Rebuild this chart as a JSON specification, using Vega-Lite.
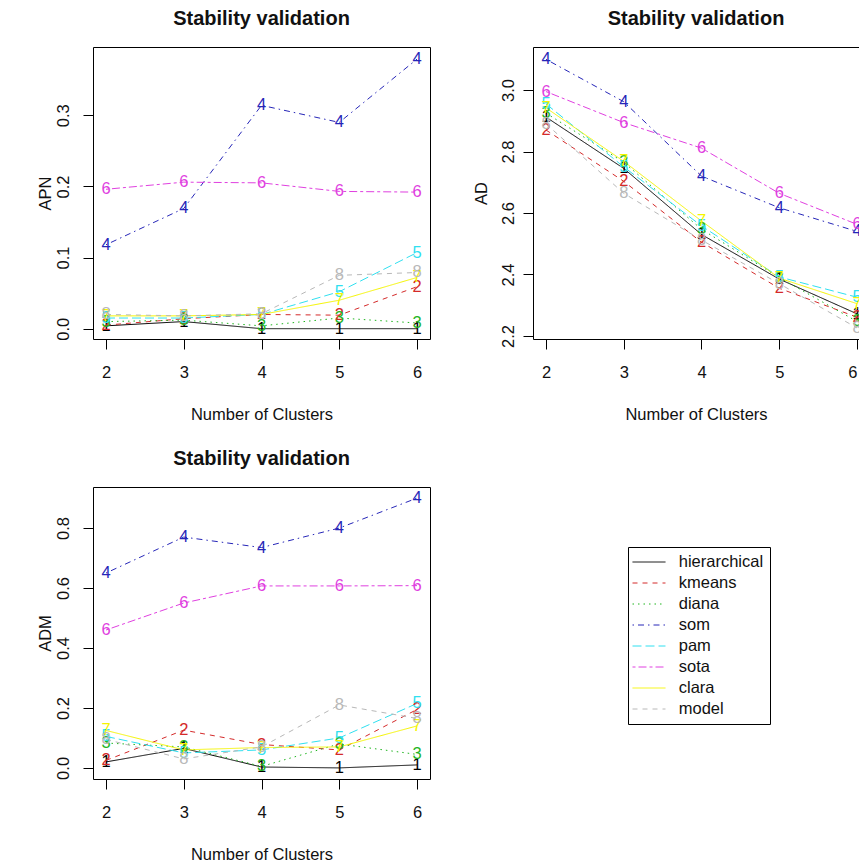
{
  "$schema": "https://vega.github.io/schema/vega-lite/v6.json",
  "background": "white",
  "padding": {"left": 36, "top": 8, "right": 0, "bottom": 0},
  "config": {
    "font": "Liberation Sans",
    "view": {"stroke": "black", "strokeWidth": 1},
    "axis": {"domain": false, "grid": false, "ticks": true, "tickColor": "black", "tickSize": 10, "tickWidth": 1, "labelFont": "Liberation Sans", "labelFontSize": 16.5, "labelColor": "#111111", "titleFont": "Liberation Sans", "titleFontSize": 16.5, "titleFontWeight": "normal", "titleColor": "#111111", "domainColor": "black", "domainWidth": 1},
    "title": {"font": "Liberation Sans", "fontSize": 20, "fontWeight": "bold", "color": "#111111", "offset": 18, "baseline": "middle", "anchor": "middle", "frame": "group"}
  },
  "datasets": {
    "stab": [
      {"k": 2, "method": "hierarchical", "id": "1", "APN": 0.004, "AD": 2.912, "ADM": 0.020},
      {"k": 3, "method": "hierarchical", "id": "1", "APN": 0.010, "AD": 2.745, "ADM": 0.065},
      {"k": 4, "method": "hierarchical", "id": "1", "APN": 0.000, "AD": 2.530, "ADM": 0.003},
      {"k": 5, "method": "hierarchical", "id": "1", "APN": 0.000, "AD": 2.385, "ADM": 0.000},
      {"k": 6, "method": "hierarchical", "id": "1", "APN": 0.000, "AD": 2.272, "ADM": 0.010},
      {"k": 2, "method": "kmeans", "id": "2", "APN": 0.005, "AD": 2.870, "ADM": 0.025},
      {"k": 3, "method": "kmeans", "id": "2", "APN": 0.014, "AD": 2.703, "ADM": 0.126},
      {"k": 4, "method": "kmeans", "id": "2", "APN": 0.020, "AD": 2.505, "ADM": 0.078},
      {"k": 5, "method": "kmeans", "id": "2", "APN": 0.019, "AD": 2.355, "ADM": 0.060},
      {"k": 6, "method": "kmeans", "id": "2", "APN": 0.059, "AD": 2.261, "ADM": 0.195},
      {"k": 2, "method": "diana", "id": "3", "APN": 0.010, "AD": 2.925, "ADM": 0.083},
      {"k": 3, "method": "diana", "id": "3", "APN": 0.012, "AD": 2.765, "ADM": 0.070},
      {"k": 4, "method": "diana", "id": "3", "APN": 0.004, "AD": 2.547, "ADM": 0.005},
      {"k": 5, "method": "diana", "id": "3", "APN": 0.015, "AD": 2.390, "ADM": 0.080},
      {"k": 6, "method": "diana", "id": "3", "APN": 0.008, "AD": 2.247, "ADM": 0.045},
      {"k": 2, "method": "som", "id": "4", "APN": 0.118, "AD": 3.100, "ADM": 0.650},
      {"k": 3, "method": "som", "id": "4", "APN": 0.169, "AD": 2.962, "ADM": 0.770},
      {"k": 4, "method": "som", "id": "4", "APN": 0.314, "AD": 2.720, "ADM": 0.735},
      {"k": 5, "method": "som", "id": "4", "APN": 0.290, "AD": 2.617, "ADM": 0.800},
      {"k": 6, "method": "som", "id": "4", "APN": 0.379, "AD": 2.540, "ADM": 0.900},
      {"k": 2, "method": "pam", "id": "5", "APN": 0.015, "AD": 2.955, "ADM": 0.105},
      {"k": 3, "method": "pam", "id": "5", "APN": 0.015, "AD": 2.750, "ADM": 0.050},
      {"k": 4, "method": "pam", "id": "5", "APN": 0.020, "AD": 2.558, "ADM": 0.060},
      {"k": 5, "method": "pam", "id": "5", "APN": 0.052, "AD": 2.392, "ADM": 0.100},
      {"k": 6, "method": "pam", "id": "5", "APN": 0.107, "AD": 2.326, "ADM": 0.215},
      {"k": 2, "method": "sota", "id": "6", "APN": 0.196, "AD": 2.995, "ADM": 0.460},
      {"k": 3, "method": "sota", "id": "6", "APN": 0.206, "AD": 2.894, "ADM": 0.550},
      {"k": 4, "method": "sota", "id": "6", "APN": 0.205, "AD": 2.811, "ADM": 0.607},
      {"k": 5, "method": "sota", "id": "6", "APN": 0.193, "AD": 2.664, "ADM": 0.607},
      {"k": 6, "method": "sota", "id": "6", "APN": 0.192, "AD": 2.563, "ADM": 0.608},
      {"k": 2, "method": "clara", "id": "7", "APN": 0.018, "AD": 2.942, "ADM": 0.125},
      {"k": 3, "method": "clara", "id": "7", "APN": 0.018, "AD": 2.768, "ADM": 0.060},
      {"k": 4, "method": "clara", "id": "7", "APN": 0.020, "AD": 2.574, "ADM": 0.068},
      {"k": 5, "method": "clara", "id": "7", "APN": 0.040, "AD": 2.388, "ADM": 0.070},
      {"k": 6, "method": "clara", "id": "7", "APN": 0.072, "AD": 2.305, "ADM": 0.140},
      {"k": 2, "method": "model", "id": "8", "APN": 0.020, "AD": 2.890, "ADM": 0.095},
      {"k": 3, "method": "model", "id": "8", "APN": 0.018, "AD": 2.664, "ADM": 0.030},
      {"k": 4, "method": "model", "id": "8", "APN": 0.021, "AD": 2.512, "ADM": 0.070},
      {"k": 5, "method": "model", "id": "8", "APN": 0.075, "AD": 2.370, "ADM": 0.210},
      {"k": 6, "method": "model", "id": "8", "APN": 0.079, "AD": 2.226, "ADM": 0.165}
    ]
  },
  "columns": 2,
  "bounds": "flush",
  "spacing": {"row": 148, "column": 103},
  "resolve": {"scale": {"color": "independent", "strokeDash": "independent"}, "legend": {"color": "independent", "strokeDash": "independent"}},
  "concat": [
    {
      "width": 337, "height": 292,
      "title": {"text": "Stability validation"},
      "data": {"name": "stab"},
      "encoding": {
        "x": {"field": "k", "type": "quantitative", "scale": {"domain": [1.833, 6.167], "nice": false, "zero": false},
              "axis": {"values": [2, 3, 4, 5, 6], "format": "d", "title": "Number of Clusters", "labelAngle": 0, "labelBaseline": "middle", "labelPadding": 23, "titleY": 75, "titleBaseline": "middle"}},
        "y": {"field": "APN", "type": "quantitative", "scale": {"domain": [-0.0145, 0.396], "nice": false, "zero": false},
              "axis": {"values": [0, 0.1, 0.2, 0.3], "format": ".1f", "labelAngle": 270, "labelAlign": "center", "labelBaseline": "middle", "labelPadding": 20, "title": "APN", "titleX": -48, "titleAngle": 270, "titleBaseline": "middle"}}
      },
      "layer": [
        {"mark": {"type": "line", "strokeWidth": 1, "clip": true},
         "encoding": {
           "color": {"field": "method", "type": "nominal", "scale": {"domain": ["hierarchical", "kmeans", "diana", "som", "pam", "sota", "clara", "model"], "range": ["#000000", "#D42A2A", "#1FB51F", "#2626B8", "#30E0F0", "#E040E0", "#F5F500", "#B8B8B8"]}, "legend": null},
           "strokeDash": {"field": "method", "type": "nominal", "scale": {"domain": ["hierarchical", "kmeans", "diana", "som", "pam", "sota", "clara", "model"], "range": [[1, 0], [5, 5], [1.5, 4], [1.5, 4, 6, 4], [9, 4], [3, 3, 8, 3], [1, 0], [5, 5]]}, "legend": null}
         }},
        {"mark": {"type": "text", "fontSize": 16.5, "font": "Liberation Sans", "baseline": "middle", "align": "center", "clip": true},
         "encoding": {
           "text": {"field": "id"},
           "color": {"field": "method", "type": "nominal", "scale": {"domain": ["hierarchical", "kmeans", "diana", "som", "pam", "sota", "clara", "model"], "range": ["#000000", "#D42A2A", "#1FB51F", "#2626B8", "#30E0F0", "#E040E0", "#F5F500", "#B8B8B8"]}, "legend": null}
         }}
      ]
    },
    {
      "width": 326, "height": 292,
      "title": {"text": "Stability validation"},
      "view": {"stroke": null},
      "data": {"name": "stab"},
      "encoding": {
        "y": {"field": "AD", "type": "quantitative", "scale": {"domain": [2.19, 3.14], "nice": false, "zero": false},
              "axis": {"values": [2.2, 2.4, 2.6, 2.8, 3.0], "format": ".1f", "domain": true, "labelAngle": 270, "labelAlign": "center", "labelBaseline": "middle", "labelPadding": 15, "title": "AD", "titleX": -52, "titleAngle": 270, "titleBaseline": "middle"}}
      },
      "resolve": {"axis": {"x": "independent"}},
      "layer": [
        {"mark": {"type": "line", "strokeWidth": 1, "clip": true},
         "encoding": {
           "x": {"field": "k", "type": "quantitative", "scale": {"domain": [1.833, 6.026], "nice": false, "zero": false},
                 "axis": {"values": [2, 3, 4, 5, 6], "format": "d", "domain": true, "title": "Number of Clusters", "labelAngle": 0, "labelBaseline": "middle", "labelPadding": 23, "labelFlush": 3, "titleY": 75, "titleBaseline": "middle"}},
           "color": {"field": "method", "type": "nominal", "scale": {"domain": ["hierarchical", "kmeans", "diana", "som", "pam", "sota", "clara", "model"], "range": ["#000000", "#D42A2A", "#1FB51F", "#2626B8", "#30E0F0", "#E040E0", "#F5F500", "#B8B8B8"]}, "legend": null},
           "strokeDash": {"field": "method", "type": "nominal", "scale": {"domain": ["hierarchical", "kmeans", "diana", "som", "pam", "sota", "clara", "model"], "range": [[1, 0], [5, 5], [1.5, 4], [1.5, 4, 6, 4], [9, 4], [3, 3, 8, 3], [1, 0], [5, 5]]}, "legend": null}
         }},
        {"mark": {"type": "text", "fontSize": 16.5, "font": "Liberation Sans", "baseline": "middle", "align": "center", "clip": true},
         "encoding": {
           "x": {"field": "k", "type": "quantitative", "scale": {"domain": [1.833, 6.026], "nice": false, "zero": false},
                 "axis": {"orient": "top", "domain": true, "ticks": false, "labels": false, "title": null}},
           "text": {"field": "id"},
           "color": {"field": "method", "type": "nominal", "scale": {"domain": ["hierarchical", "kmeans", "diana", "som", "pam", "sota", "clara", "model"], "range": ["#000000", "#D42A2A", "#1FB51F", "#2626B8", "#30E0F0", "#E040E0", "#F5F500", "#B8B8B8"]}, "legend": null}
         }}
      ]
    },
    {
      "width": 337, "height": 292,
      "title": {"text": "Stability validation"},
      "data": {"name": "stab"},
      "encoding": {
        "x": {"field": "k", "type": "quantitative", "scale": {"domain": [1.833, 6.167], "nice": false, "zero": false},
              "axis": {"values": [2, 3, 4, 5, 6], "format": "d", "title": "Number of Clusters", "labelAngle": 0, "labelBaseline": "middle", "labelPadding": 23, "titleY": 75, "titleBaseline": "middle"}},
        "y": {"field": "ADM", "type": "quantitative", "scale": {"domain": [-0.037, 0.937], "nice": false, "zero": false},
              "axis": {"values": [0, 0.2, 0.4, 0.6, 0.8], "format": ".1f", "labelAngle": 270, "labelAlign": "center", "labelBaseline": "middle", "labelPadding": 20, "title": "ADM", "titleX": -48, "titleAngle": 270, "titleBaseline": "middle"}}
      },
      "layer": [
        {"mark": {"type": "line", "strokeWidth": 1, "clip": true},
         "encoding": {
           "color": {"field": "method", "type": "nominal", "scale": {"domain": ["hierarchical", "kmeans", "diana", "som", "pam", "sota", "clara", "model"], "range": ["#000000", "#D42A2A", "#1FB51F", "#2626B8", "#30E0F0", "#E040E0", "#F5F500", "#B8B8B8"]},
                     "legend": {"title": null, "orient": "none", "legendX": 535, "legendY": 60, "strokeColor": "black", "fillColor": "white", "padding": 6, "symbolType": "M-2,0H2", "symbolSize": 272, "symbolStrokeWidth": 1, "symbolOffset": 6, "labelOffset": 20.75, "rowPadding": 3, "labelFontSize": 16.5, "labelFont": "Liberation Sans", "labelColor": "#111111", "cornerRadius": 0}},
           "strokeDash": {"field": "method", "type": "nominal", "scale": {"domain": ["hierarchical", "kmeans", "diana", "som", "pam", "sota", "clara", "model"], "range": [[1, 0], [5, 5], [1.5, 4], [1.5, 4, 6, 4], [9, 4], [3, 3, 8, 3], [1, 0], [5, 5]]},
                     "legend": {"title": null, "orient": "none", "legendX": 535, "legendY": 60, "strokeColor": "black", "fillColor": "white", "padding": 6, "symbolType": "M-2,0H2", "symbolSize": 272, "symbolStrokeWidth": 1, "symbolOffset": 6, "labelOffset": 20.75, "rowPadding": 3, "labelFontSize": 16.5, "labelFont": "Liberation Sans", "labelColor": "#111111", "cornerRadius": 0}}
         }},
        {"mark": {"type": "text", "fontSize": 16.5, "font": "Liberation Sans", "baseline": "middle", "align": "center", "clip": true},
         "encoding": {
           "text": {"field": "id"},
           "color": {"field": "method", "type": "nominal", "scale": {"domain": ["hierarchical", "kmeans", "diana", "som", "pam", "sota", "clara", "model"], "range": ["#000000", "#D42A2A", "#1FB51F", "#2626B8", "#30E0F0", "#E040E0", "#F5F500", "#B8B8B8"]}, "legend": null}
         }}
      ]
    }
  ]
}
